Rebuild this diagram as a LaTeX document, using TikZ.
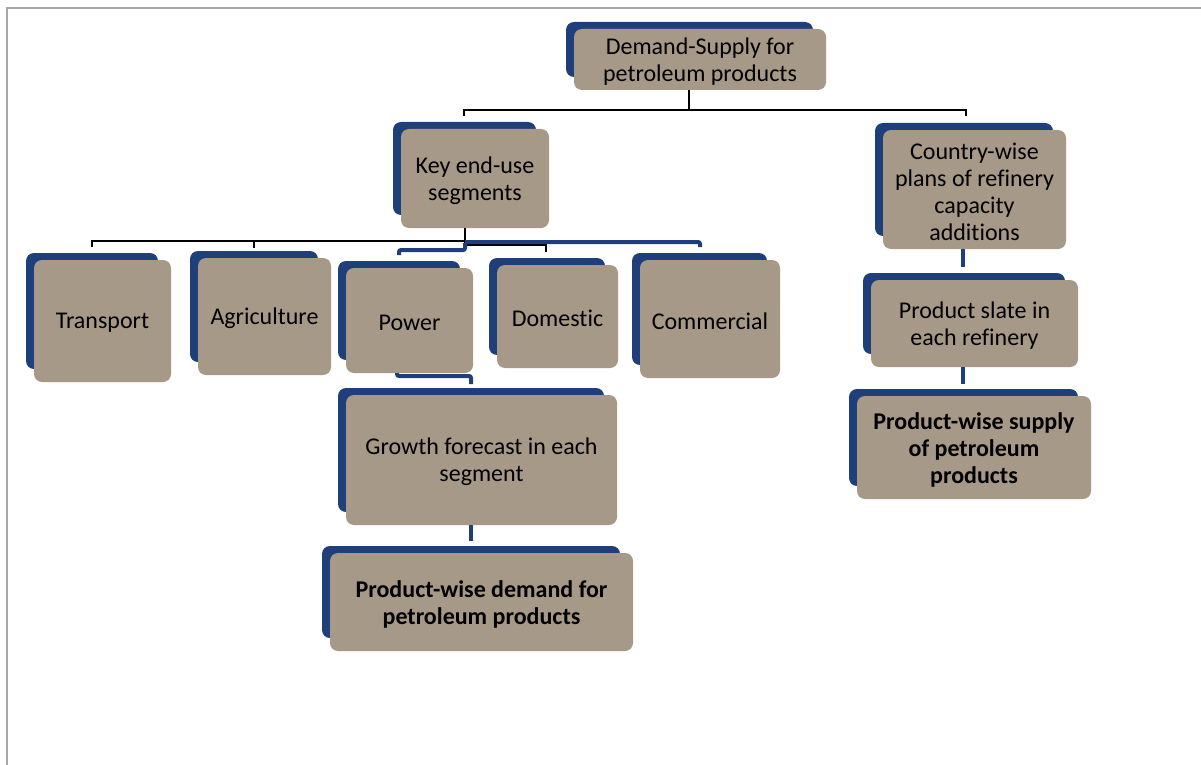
\documentclass[tikz,border=0pt]{standalone}
\usepackage{fontspec}
\setmainfont{Carlito}[Ligatures=NoCommon]
\usetikzlibrary{fit}
\definecolor{tanbox}{RGB}{166,153,135}
\definecolor{navyback}{RGB}{31,63,122}
\definecolor{framegray}{RGB}{166,166,166}
\tikzset{
  box/.style={fill=tanbox, rounded corners=8pt, inner sep=0pt},
  boxtext/.style={inner sep=0pt, align=center, text=black,
    font=\fontsize{24}{27}\selectfont},
  boldbox/.style={font=\fontsize{24}{27}\selectfont\bfseries},
  blk/.style={draw=black, line width=2.4pt},
  bln/.style={draw=navyback, line width=4pt, rounded corners=2pt},
}
% #1 text style, #2 name, #3 x1, #4 y1, #5 x2, #6 y2, #7 text
\newcommand\tbox[7]{%
  \fill[navyback, rounded corners=8pt] (#3-8,#4-7) rectangle (#5-13,#6-13);
  \node[box,fit={(#3,#4) (#5,#6)}] (#2) {};
  \node[boxtext,#1] (#2-t) at ([yshift=-2pt]#2.center) {#7};
}
\begin{document}
\begin{tikzpicture}[x=1pt,y=-1pt]
\useasboundingbox (0,0) rectangle (1201,765);
\draw[framegray, line width=2pt] (7,765) -- (7,8) -- (1201,8);

\coordinate (j0) at (689,110);
\coordinate (jk) at (464,110);
\coordinate (jc) at (966,110);
\coordinate (k0) at (465,243);
\coordinate (tT) at (92,241);
\coordinate (tA) at (254,241);
\coordinate (tD) at (546,245);
\coordinate (tC) at (700,242);
\coordinate (tP) at (399,250);
\coordinate (pg) at (471,376);

\tbox{}{top}{574}{29}{826}{90}{Demand-Supply for\\petroleum products}
\tbox{}{key}{401}{129}{549}{228}{Key end-use\\segments}
\tbox{}{country}{883}{130}{1066}{249}{Country-wise\\plans of refinery\\capacity\\additions}
\tbox{}{transport}{34}{260}{171}{382}{Transport}
\tbox{}{agri}{198}{258}{331}{375}{Agriculture}
\tbox{}{power}{346}{268}{473}{373}{Power}
\tbox{}{domestic}{497}{265}{618}{368}{Domestic}
\tbox{}{commercial}{640}{260}{780}{378}{Commercial}
\tbox{}{growth}{346}{395}{617}{525}{Growth forecast in each\\segment}
\tbox{boldbox}{demand}{330}{553}{633}{651}{Product-wise demand for\\petroleum products}
\tbox{}{slate}{871}{280}{1078}{367}{Product slate in\\each refinery}
\tbox{boldbox}{supply}{857}{396}{1091}{499}{Product-wise supply\\of petroleum\\products}

\draw[blk] (top.south -| j0) -- (j0);
\draw[blk] (jk |- key.north) ++(0,-13) -- (jk) -- (jc) -- ++(0,6);
\draw[blk] (key.south -| k0) -- (k0);
\draw[blk] (transport.north -| tT) ++(0,-13) -- (tT) -- (k0 |- tT);
\draw[blk] (tA) -- ++(0,7);
\draw[blk] (k0 |- tD) -- (tD) -- ++(0,7);
\draw[bln] (k0 |- tC) -- (tC) -- ++(0,5);
\draw[bln] (k0) -- (k0 |- tP) -- (tP) -- ++(0,5);
\draw[bln] (power.south -| 397,0) -- (397,376) -- (pg) -- ++(0,8);
\draw[bln] (growth.south -| pg) -- ++(0,16);
\draw[bln] (country.south -| 963,0) -- ++(0,18);
\draw[bln] (slate.south -| 963,0) -- ++(0,17);
\end{tikzpicture}
\end{document}
